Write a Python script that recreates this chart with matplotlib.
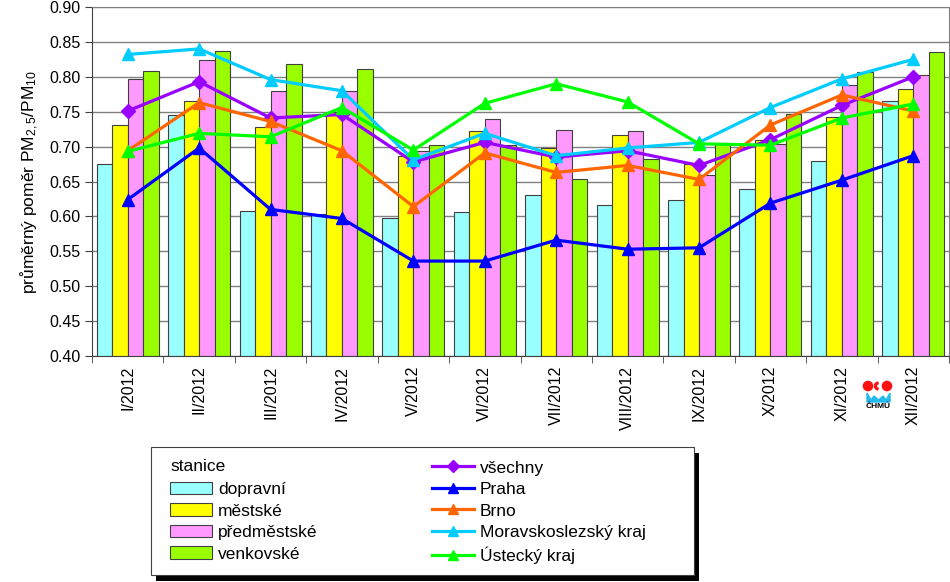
import numpy as np
import matplotlib
matplotlib.use("Agg")
import matplotlib.pyplot as plt
from matplotlib.patches import Patch, Circle, Wedge, Polygon, Rectangle
from matplotlib.lines import Line2D
from matplotlib.legend_handler import HandlerBase

plt.rcParams['font.family'] = ['Liberation Sans', 'DejaVu Sans']
plt.rcParams['mathtext.fontset'] = 'custom'
plt.rcParams['mathtext.rm'] = 'Liberation Sans'
plt.rcParams['mathtext.it'] = 'Liberation Sans:italic'

months = ['I/2012', 'II/2012', 'III/2012', 'IV/2012', 'V/2012', 'VI/2012',
          'VII/2012', 'VIII/2012', 'IX/2012', 'X/2012', 'XI/2012', 'XII/2012']

# bars - station types
dopravni = [0.675, 0.745, 0.608, 0.604, 0.598, 0.606, 0.630, 0.616, 0.624, 0.639, 0.680, 0.766]
mestske = [0.731, 0.765, 0.728, 0.750, 0.687, 0.723, 0.698, 0.716, 0.675, 0.709, 0.742, 0.782]
predmestske = [0.797, 0.824, 0.780, 0.780, 0.693, 0.740, 0.724, 0.723, 0.659, 0.704, 0.788, 0.802]
venkovske = [0.809, 0.837, 0.819, 0.811, 0.703, 0.702, 0.654, 0.682, 0.705, 0.746, 0.807, 0.835]

# lines - regions
vsechny = [0.751, 0.793, 0.741, 0.746, 0.678, 0.706, 0.685, 0.694, 0.673, 0.710, 0.759, 0.800]
praha = [0.624, 0.698, 0.610, 0.597, 0.536, 0.536, 0.566, 0.553, 0.555, 0.619, 0.652, 0.687]
brno = [0.694, 0.763, 0.736, 0.694, 0.614, 0.691, 0.663, 0.673, 0.653, 0.731, 0.774, 0.751]
msk = [0.832, 0.840, 0.796, 0.780, 0.681, 0.719, 0.687, 0.698, 0.706, 0.756, 0.797, 0.825]
ustecky = [0.693, 0.719, 0.714, 0.756, 0.695, 0.762, 0.790, 0.764, 0.704, 0.702, 0.741, 0.761]

bar_series = [('dopravní', dopravni, '#99FFFF'),
              ('městské', mestske, '#FFFF00'),
              ('předměstské', predmestske, '#FF99FF'),
              ('venkovské', venkovske, '#99FF00')]
line_series = [('všechny', vsechny, '#9900FF', 'D'),
               ('Praha', praha, '#0000FF', '^'),
               ('Brno', brno, '#FF6600', '^'),
               ('Moravskoslezský kraj', msk, '#00CCFF', '^'),
               ('Ústecký kraj', ustecky, '#00FF00', '^')]

W, H = 950, 582
fig = plt.figure(figsize=(W / 100, H / 100), dpi=100)
ax = fig.add_axes([92 / W, 1 - 356 / H, 857 / W, 349 / H])

x = np.arange(len(months))
bw = 0.217
for i, (name, vals, col) in enumerate(bar_series):
    ax.bar(x + (i - 1.5) * bw, np.array(vals) - 0.4, bw, bottom=0.4, color=col,
           edgecolor='#404040', linewidth=0.8, zorder=2)

for name, vals, col, mk in line_series:
    ax.plot(x, vals, color=col, lw=2.3, marker=mk,
            ms=7 if mk == 'D' else 9, zorder=3)

ax.set_xlim(-0.5, len(months) - 0.5)
ax.set_ylim(0.40, 0.90)
ax.set_yticks(np.arange(0.40, 0.901, 0.05))
ax.set_yticklabels(['%.2f' % v for v in np.arange(0.40, 0.901, 0.05)], fontsize=11.5)
ax.yaxis.grid(True, color='#808080', lw=1, zorder=0)
ax.set_axisbelow(True)

ax.set_xticks(x)
ax.set_xticklabels(months, rotation=90, fontsize=11.5)
ax.tick_params(axis='x', which='major', length=0, pad=7)
ax.set_xticks(np.arange(-0.5, len(months) + 0.5, 1), minor=True)
ax.tick_params(axis='x', which='minor', length=5, color='#404040')
ax.tick_params(axis='y', length=5, color='#404040')

for s in ['top', 'right']:
    ax.spines[s].set_color('#808080')
for s in ['left', 'bottom']:
    ax.spines[s].set_color('#404040')

ax.set_ylabel('průměrný poměr PM$_{2,5}$/PM$_{10}$', fontsize=12.5, labelpad=6)


class TitleHandler(HandlerBase):
    def create_artists(self, legend, orig_handle, xdescent, ydescent, width,
                       height, fontsize, trans):
        t = plt.Text(-xdescent, height / 2 - ydescent, 'stanice', fontsize=fontsize,
                     va='center', ha='left', transform=trans)
        return [t]


class TitleKey:
    pass


handles = [TitleKey()]
labels = ['']
for name, vals, col in bar_series:
    handles.append(Patch(facecolor=col, edgecolor='#404040', lw=0.8))
    labels.append(name)
for name, vals, col, mk in line_series:
    handles.append(Line2D([], [], color=col, lw=2.3, marker=mk, ms=6 if mk == 'D' else 7))
    labels.append(name)

# legend frame with black shadow
fig.patches.append(Rectangle((156 / W, 1 - 581 / H), 543 / W, 128 / H, facecolor='black',
                             edgecolor='none', transform=fig.transFigure, figure=fig))
fig.patches.append(Rectangle((151 / W, 1 - 575 / H), 543 / W, 128 / H, facecolor='white',
                             edgecolor='#404040', lw=0.8, transform=fig.transFigure, figure=fig))

leg = fig.legend(handles, labels, ncol=2, loc='upper left',
                 bbox_to_anchor=(159 / W, 1 - 449 / H), borderaxespad=0, fontsize=12.5,
                 handler_map={TitleKey: TitleHandler()}, frameon=False,
                 handlelength=2.4, handleheight=0.75, columnspacing=6.6,
                 labelspacing=0.35, borderpad=0.65, handletextpad=0.35)

# CHMU logo
lax = fig.add_axes([858 / W, 1 - 410 / H, 40 / W, 36 / H])
lax.set_xlim(0, 40)
lax.set_ylim(36, 0)
lax.set_aspect('equal')
lax.axis('off')
lax.add_patch(Circle((10, 12), 4.6, color='#FF1010'))
lax.add_patch(Circle((29, 12), 4.6, color='#FF1010'))
lax.add_patch(Wedge((20.5, 12), 4.0, 100, 260, width=1.8, color='#FF1010'))
lax.add_patch(Polygon([(9, 19), (13, 26), (16, 22), (20.5, 26), (25, 22), (28, 26),
                       (32, 19), (32, 28), (9, 28)], closed=True, color='#22BBEE'))
lax.text(20.5, 33, 'ČHMÚ', color='black', fontsize=6, ha='center',
         va='center', weight='bold')

fig.savefig('out.png', dpi=100)
